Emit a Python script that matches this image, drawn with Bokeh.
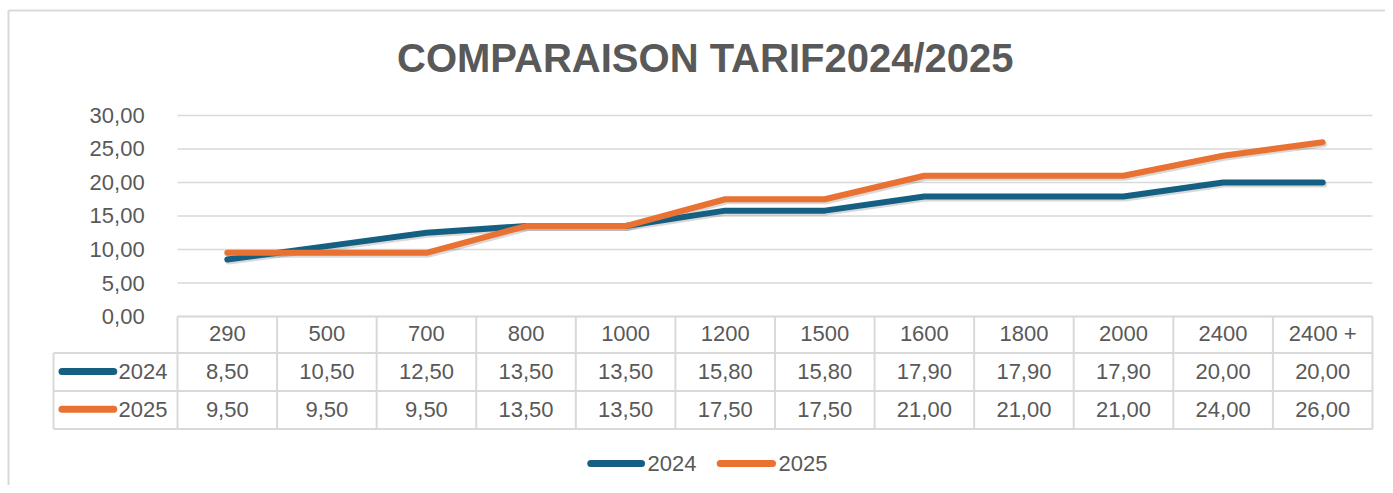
from bokeh.plotting import figure
from bokeh.models import Range1d
from bokeh.core.properties import value
from bokeh.embed import file_html
from bokeh.resources import INLINE

# ---- data ----
categories = ["290", "500", "700", "800", "1000", "1200", "1500", "1600", "1800", "2000", "2400", "2400 +"]
tarif_2024 = [8.50, 10.50, 12.50, 13.50, 13.50, 15.80, 15.80, 17.90, 17.90, 17.90, 20.00, 20.00]
tarif_2025 = [9.50, 9.50, 9.50, 13.50, 13.50, 17.50, 17.50, 21.00, 21.00, 21.00, 24.00, 26.00]
y_ticks = [0, 5, 10, 15, 20, 25, 30]
series_names = ["2024", "2025"]
title_text = "COMPARAISON TARIF2024/2025"

# ---- style ----
BLUE = "#156082"
ORANGE = "#E97132"
TXT = "#595959"
GRID = "#d9d9d9"
FONT = value("Liberation Sans")
FS = "22px"

def fr(v):
    return f"{v:.2f}".replace(".", ",")

W, H = 1385, 485
n = len(categories)
xs = [i + 0.5 for i in range(n)]

p = figure(width=W, height=H, output_backend="svg", toolbar_location=None,
           x_range=Range1d(-1.7775, 12.131), y_range=Range1d(-25.22, 47.16),
           min_border=0, title=None)
p.axis.visible = False
p.grid.visible = False
p.outline_line_color = None
p.background_fill_color = "white"
p.border_fill_color = "white"

# chart-area border (left and top visible)
p.segment(x0=[-1.697, -1.697], y0=[45.67, 45.67], x1=[-1.697, 13.0], y1=[-30, 45.67],
          line_color=GRID, line_width=2)

# gridlines
p.segment(x0=[0] * len(y_ticks), y0=y_ticks, x1=[n] * len(y_ticks), y1=y_ticks,
          line_color=GRID, line_width=1.5)
p.text(x=[-0.33] * len(y_ticks), y=y_ticks, text=[fr(t) for t in y_ticks],
       text_align="right", text_baseline="middle", text_color=TXT,
       text_font=FONT, text_font_size=FS)

# title
p.text(x=[5.30], y=[38.6], text=[title_text],
       text_align="center", text_baseline="middle", text_color=TXT,
       text_font=FONT, text_font_size="40px", text_font_style="bold")

# lines with soft shadow
for vals, col in [(tarif_2024, BLUE), (tarif_2025, ORANGE)]:
    p.line([x + 0.015 for x in xs], [v - 0.3 for v in vals], line_color="black",
           line_alpha=0.15, line_width=6, line_join="round", line_cap="round")
for vals, col in [(tarif_2024, BLUE), (tarif_2025, ORANGE)]:
    p.line(xs, vals, line_color=col, line_width=6, line_join="round", line_cap="round")

# data table
r_top, r1, r2, r3 = 0.0, -5.45, -11.12, -16.79
left = -1.245
p.segment(x0=[0, left, left, left], y0=[r_top, r1, r2, r3], x1=[n] * 4, y1=[r_top, r1, r2, r3],
          line_color=GRID, line_width=2)
p.segment(x0=list(range(n + 1)), y0=[r_top] * (n + 1), x1=list(range(n + 1)), y1=[r3] * (n + 1),
          line_color=GRID, line_width=2)
p.segment(x0=[left], y0=[r1], x1=[left], y1=[r3], line_color=GRID, line_width=2)

yc_h, yc_1, yc_2 = -2.54, -8.2, -13.85
p.text(x=xs, y=[yc_h] * n, text=categories, text_align="center", text_baseline="middle",
       text_color=TXT, text_font=FONT, text_font_size=FS)
p.text(x=xs, y=[yc_1] * n, text=[fr(v) for v in tarif_2024], text_align="center",
       text_baseline="middle", text_color=TXT, text_font=FONT, text_font_size=FS)
p.text(x=xs, y=[yc_2] * n, text=[fr(v) for v in tarif_2025], text_align="center",
       text_baseline="middle", text_color=TXT, text_font=FONT, text_font_size=FS)

# table legend keys
p.segment(x0=[-1.16, -1.16], y0=[yc_1, yc_2], x1=[-0.64, -0.64], y1=[yc_1, yc_2],
          line_color=[BLUE, ORANGE], line_width=7, line_cap="round")
p.text(x=[-0.592, -0.592], y=[yc_1, yc_2], text=series_names, text_align="left",
       text_baseline="middle", text_color=TXT, text_font=FONT, text_font_size=FS)

# bottom legend
ly = -21.94
p.segment(x0=[4.15, 5.45], y0=[ly, ly], x1=[4.66, 5.975], y1=[ly, ly],
          line_color=[BLUE, ORANGE], line_width=7, line_cap="round")
p.text(x=[4.72, 6.035], y=[ly, ly], text=series_names, text_align="left",
       text_baseline="middle", text_color=TXT, text_font=FONT, text_font_size=FS)

open("out.html", "w").write(file_html(p, INLINE))
